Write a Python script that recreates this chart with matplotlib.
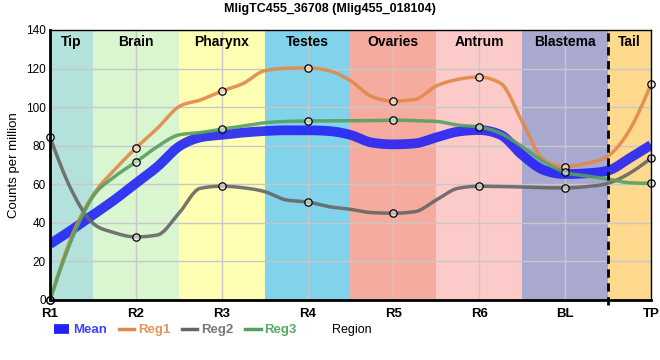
import numpy as np
import matplotlib
matplotlib.use("Agg")
import matplotlib.pyplot as plt
from matplotlib.lines import Line2D
import matplotlib.transforms as mtransforms

plt.rcParams['font.family'] = ['Liberation Sans', 'DejaVu Sans']

# data
regions = ['R1', 'R2', 'R3', 'R4', 'R5', 'R6', 'BL', 'TP']

# each curve traced every quarter region (every 4th value is the region point)
trace_x = np.arange(0, 7.01, 0.25)
reg1 = [0, 32.8, 54.4, 67.4, 78.8, 89.0, 100.2, 103.7, 108.3, 112.3, 118.9, 120.1,
        120.3, 118.9, 113.7, 105.4, 103.2, 104.0, 111.0, 114.4, 115.6, 112.3, 92.5,
        72.6, 69.1, 70.9, 74.7, 88.1, 111.8]
reg2 = [84.4, 57.0, 39.8, 34.9, 32.7, 33.7, 44.9, 57.9, 59.0, 58.2, 56.2, 51.9,
        50.8, 48.4, 47.0, 45.3, 45.0, 45.8, 51.9, 57.9, 59.0, 58.8, 58.6,
        58.2, 58.1, 58.8, 60.5, 65.7, 73.5]
reg3 = [0, 31.1, 53.6, 63.9, 71.5, 79.5, 85.6, 86.8, 88.6, 90.2, 91.9, 92.6,
        92.8, 92.9, 93.0, 93.0, 93.3, 93.0, 92.6, 90.7, 89.7, 86.4, 79.5,
        71.7, 66.2, 64.3, 62.7, 60.8, 60.5]
mean = [29.0, 36.3, 44.1, 51.9, 60.5, 69.1, 79.5, 84.3, 85.6, 86.8, 87.6, 88.0,
        88.0, 87.6, 85.6, 81.6, 80.7, 81.2, 84.3, 87.3, 88.1, 85.6, 75.2,
        67.4, 65.3, 65.7, 67.1, 73.5, 80.4]

band_names = ['Tip', 'Brain', 'Pharynx', 'Testes', 'Ovaries', 'Antrum', 'Blastema', 'Tail']
band_colors = ['#b3e2dd', '#d9f6d1', '#ffffb3', '#80d3ea', '#f5ab9d', '#fdcaca', '#a9a8cf', '#fed98e']


def monotone_x(x, y, n=20):
    """Monotone cubic interpolation, same as d3.curveMonotoneX."""
    x = np.asarray(x, float)
    y = np.asarray(y, float)
    h = np.diff(x)
    s = np.diff(y) / h
    t = np.zeros(len(x))
    sign = lambda v: -1.0 if v < 0 else 1.0
    for i in range(1, len(x) - 1):
        p = (s[i - 1] * h[i] + s[i] * h[i - 1]) / (h[i - 1] + h[i])
        t[i] = (sign(s[i - 1]) + sign(s[i])) * min(abs(s[i - 1]), abs(s[i]), 0.5 * abs(p))
    t[0] = (3 * s[0] - t[1]) / 2
    t[-1] = (3 * s[-1] - t[-2]) / 2
    xs, ys = [], []
    for i in range(len(x) - 1):
        u = np.linspace(0, 1, n)
        h00 = 2 * u**3 - 3 * u**2 + 1
        h10 = u**3 - 2 * u**2 + u
        h01 = -2 * u**3 + 3 * u**2
        h11 = u**3 - u**2
        xs.append(x[i] + u * h[i])
        ys.append(h00 * y[i] + h10 * h[i] * t[i] + h01 * y[i + 1] + h11 * h[i] * t[i + 1])
    return np.concatenate(xs), np.concatenate(ys)


fig = plt.figure(figsize=(6.6, 3.6), dpi=100)
ax = fig.add_axes([50 / 660, 1 - 300 / 360, 601 / 660, 270 / 360])

xpos = np.arange(len(regions))

# background region bands
edges = [0, 0.5, 1.5, 2.5, 3.5, 4.5, 5.5, 6.5, 7]
trans = mtransforms.blended_transform_factory(ax.transData, ax.transAxes)
for i, (name, col) in enumerate(zip(band_names, band_colors)):
    ax.axvspan(edges[i], edges[i + 1], color=col, lw=0, zorder=0)
    ax.text((edges[i] + edges[i + 1]) / 2, 0.955, name, transform=trans,
            ha='center', va='center', fontsize=10, fontweight='bold', zorder=5)

ax.grid(True, color='#c8c8c8', lw=1, zorder=1)
ax.set_axisbelow(False)

series = [
    (reg1, '#e0894a'),
    (reg2, '#666666'),
    (reg3, '#55a060'),
]

mx, my = monotone_x(trace_x, mean)
ax.plot(mx, my, color='#2323f5', lw=7, alpha=0.9, zorder=3, solid_capstyle='butt')
for vals, col in series:
    sx, sy = monotone_x(trace_x, vals)
    ax.plot(sx, sy, color=col, lw=2.5, alpha=0.9, zorder=4)
for vals, col in series:
    ax.scatter(xpos, vals[::4], s=28, facecolor=(1, 1, 1, 0.55), edgecolor='black',
               linewidth=0.9, zorder=6, clip_on=False)

ax.axvline(6.5, ymin=-0.02, ymax=1, color='black', lw=2, ls=(0, (3, 2)),
           zorder=7, clip_on=False)

ax.set_xlim(0, 7)
ax.set_ylim(0, 140)
ax.set_yticks(np.arange(0, 141, 20))
ax.set_xticks(xpos)
ax.set_xticklabels(regions, fontsize=9.5, fontweight='bold')
ax.tick_params(axis='y', labelsize=8.5, length=0, pad=3)
ax.tick_params(axis='x', length=0, pad=5.5)

for side in ['left', 'bottom']:
    ax.spines[side].set_linewidth(2)
for side in ['top', 'right']:
    ax.spines[side].set_linewidth(1)
for sp in ax.spines.values():
    sp.set_zorder(8)

ax.set_ylabel('Counts per million', fontsize=9.5, labelpad=4)
fig.text(352 / 660, 1 - 330 / 360, 'Region', ha='center', va='center', fontsize=9)
fig.suptitle('MligTC455_36708 (Mlig455_018104)', x=330 / 660, y=1 - 9 / 360,
             va='center', fontsize=9, fontweight='bold')

handles = [
    Line2D([], [], color='#2323f5', lw=7, solid_capstyle='butt'),
    Line2D([], [], color='#e0894a', lw=2.5),
    Line2D([], [], color='#666666', lw=2.5),
    Line2D([], [], color='#55a060', lw=2.5),
]
labels = ['Mean', 'Reg1', 'Reg2', 'Reg3']
leg = fig.legend(handles, labels, loc='center left', bbox_to_anchor=(54 / 660, 1 - 330 / 360),
                 ncol=4, frameon=False, fontsize=9.5, handlelength=1.15,
                 handletextpad=0.3, columnspacing=0.9, borderaxespad=0, borderpad=0)
for txt, col in zip(leg.get_texts(), ['#4040ff', '#e8935a', '#777777', '#5aa866']):
    txt.set_color(col)
    txt.set_fontweight('bold')

fig.savefig('out.png', dpi=100)
